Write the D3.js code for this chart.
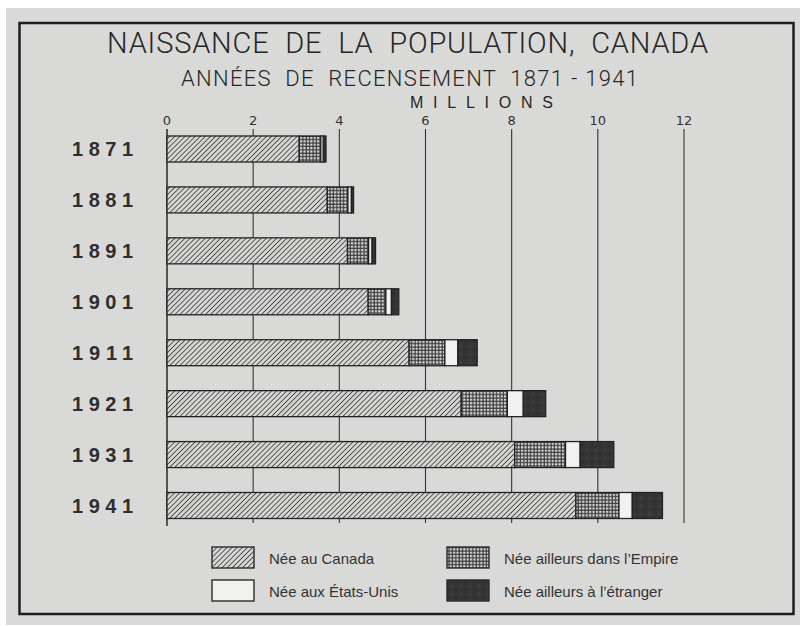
<!DOCTYPE html>
<html>
<head>
<meta charset="utf-8">
<script src="https://cdn.jsdelivr.net/npm/d3@7"></script>
<style>
  body { margin: 0; background: #fff; }
  svg { display: block; }
  text { white-space: pre; }
</style>
</head>
<body>
<svg id="canvas"></svg>
<script>
const width = 800;
const height = 627;

// census years and population by birthplace, millions
const years = ["1871", "1881", "1891", "1901", "1911", "1921", "1931", "1941"];
const bornCanada = [3.07, 3.72, 4.19, 4.67, 5.62, 6.83, 8.07, 9.49];
const bornEmpire = [0.50, 0.48, 0.49, 0.41, 0.83, 1.07, 1.18, 1.00];
const bornUS = [0.06, 0.08, 0.08, 0.13, 0.30, 0.37, 0.34, 0.31];
const bornOther = [0.06, 0.05, 0.08, 0.17, 0.45, 0.52, 0.78, 0.70];
const ticks = [0, 2, 4, 6, 8, 10, 12];

const seriesKeys = ["canada", "empire", "us", "other"];
const seriesLabels = [
  "Née au Canada",
  "Née ailleurs dans l’Empire",
  "Née aux États-Unis",
  "Née ailleurs à l’étranger"
];
const fills = {
  canada: "url(#hatch)",
  empire: "url(#checks)",
  us: "#f1f1ef",
  other: "url(#dark)"
};

const rows = years.map((y, i) => ({
  year: y,
  canada: bornCanada[i],
  empire: bornEmpire[i],
  us: bornUS[i],
  other: bornOther[i]
}));

const stacked = d3.stack().keys(seriesKeys)(rows);

const svg = d3.select("#canvas").attr("width", width).attr("height", height);

// scanned page background
svg.append("rect")
  .attr("x", 6).attr("y", 8)
  .attr("width", width - 6).attr("height", 617)
  .attr("fill", "#d9d9d8");

const defs = svg.append("defs");

const hatch = defs.append("pattern")
  .attr("id", "hatch")
  .attr("patternUnits", "userSpaceOnUse")
  .attr("width", 3.6).attr("height", 3.6)
  .attr("patternTransform", "rotate(45)");
hatch.append("rect").attr("width", 3.6).attr("height", 3.6).attr("fill", "#d6d6d5");
hatch.append("line")
  .attr("x1", 0).attr("y1", 0).attr("x2", 0).attr("y2", 3.6)
  .attr("stroke", "#2e2e2e").attr("stroke-width", 1.5);

const checks = defs.append("pattern")
  .attr("id", "checks")
  .attr("patternUnits", "userSpaceOnUse")
  .attr("width", 3.4).attr("height", 3.4);
checks.append("rect").attr("width", 3.4).attr("height", 3.4).attr("fill", "#3e3e3e");
checks.append("rect")
  .attr("x", 0.9).attr("y", 0.9).attr("width", 2.1).attr("height", 2.1)
  .attr("fill", "#dededc");

const dark = defs.append("pattern")
  .attr("id", "dark")
  .attr("patternUnits", "userSpaceOnUse")
  .attr("width", 9).attr("height", 8);
dark.append("rect").attr("width", 9).attr("height", 8).attr("fill", "#353535");
dark.append("circle").attr("cx", 2).attr("cy", 2).attr("r", 1.6).attr("fill", "#3f3f3f");
dark.append("circle").attr("cx", 6.5).attr("cy", 5.5).attr("r", 1.4).attr("fill", "#2c2c2c");

// frame
svg.append("rect")
  .attr("x", 19.5).attr("y", 23)
  .attr("width", 774).attr("height", 591)
  .attr("fill", "none")
  .attr("stroke", "#1e1e1e")
  .attr("stroke-width", 2.5);

const ink = "#262626";
const narrow = "'Liberation Sans Narrow', 'Roboto', sans-serif";

svg.append("text")
  .attr("x", 107).attr("y", 53)
  .attr("textLength", 601)
  .attr("lengthAdjust", "spacing")
  .style("font-family", narrow)
  .style("font-weight", 300)
  .style("font-size", "29px")
  .attr("fill", ink)
  .text("NAISSANCE  DE  LA  POPULATION,  CANADA");

svg.append("text")
  .attr("x", 181).attr("y", 86)
  .attr("textLength", 457)
  .attr("lengthAdjust", "spacing")
  .style("font-family", narrow)
  .style("font-weight", 300)
  .style("font-size", "22px")
  .attr("fill", ink)
  .text("ANNÉES  DE  RECENSEMENT  1871 - 1941");

svg.append("text")
  .attr("x", 410).attr("y", 108)
  .attr("textLength", 143)
  .attr("lengthAdjust", "spacing")
  .style("font-family", "'Liberation Sans', sans-serif")
  .style("font-size", "16px")
  .attr("fill", ink)
  .text("MILLIONS");

const xScale = d3.scaleLinear().domain([0, 12]).range([167, 684]);

const yScale = d3.scalePoint().domain(years).range([149, 505.5]);
const barHeight = 26;

// grid lines and tick labels
svg.append("g")
  .selectAll("line")
  .data(ticks)
  .enter()
  .append("line")
  .attr("x1", (d) => xScale(d))
  .attr("x2", (d) => xScale(d))
  .attr("y1", 129)
  .attr("y2", (d) => (d === 0 ? 526 : 523))
  .attr("stroke", "#333")
  .attr("stroke-width", (d) => (d === 0 ? 1.6 : 1.1));

svg.append("g")
  .selectAll("text")
  .data(ticks)
  .enter()
  .append("text")
  .attr("x", (d) => xScale(d))
  .attr("y", 125)
  .attr("text-anchor", "middle")
  .style("font-family", "'DejaVu Sans', sans-serif")
  .style("font-size", "13px")
  .attr("fill", "#333")
  .text((d) => d);

// year labels
svg.append("g")
  .selectAll("text")
  .data(years)
  .enter()
  .append("text")
  .attr("x", 72)
  .attr("y", (d) => yScale(d) + 7)
  .attr("textLength", 61)
  .attr("lengthAdjust", "spacing")
  .style("font-family", "'Liberation Sans', sans-serif")
  .style("font-weight", "bold")
  .style("font-size", "20px")
  .attr("fill", "#2e2e2e")
  .text((d) => d);

// stacked bars
svg.append("g")
  .selectAll("g")
  .data(stacked)
  .enter()
  .append("g")
  .attr("fill", (s) => fills[s.key])
  .selectAll("rect")
  .data((s) => s)
  .enter()
  .append("rect")
  .attr("x", (d) => xScale(d[0]))
  .attr("y", (d) => yScale(d.data.year) - barHeight / 2)
  .attr("width", (d) => xScale(d[1]) - xScale(d[0]))
  .attr("height", barHeight)
  .attr("stroke", "#222")
  .attr("stroke-width", 1.3);

// legend
const legendPos = [
  { key: "canada", x: 212, y: 547 },
  { key: "empire", x: 447, y: 547 },
  { key: "us", x: 212, y: 580 },
  { key: "other", x: 447, y: 580 }
];

const legend = svg.append("g").attr("id", "legend");

legend
  .selectAll("rect")
  .data(legendPos)
  .enter()
  .append("rect")
  .attr("x", (d) => d.x)
  .attr("y", (d) => d.y)
  .attr("width", 42)
  .attr("height", 21)
  .attr("fill", (d) => fills[d.key])
  .attr("stroke", "#2a2a2a")
  .attr("stroke-width", 1.4);

legend
  .selectAll("text")
  .data(legendPos)
  .enter()
  .append("text")
  .attr("x", (d) => d.x + 57)
  .attr("y", (d) => d.y + 17)
  .style("font-family", "'Liberation Sans', sans-serif")
  .style("font-size", "15px")
  .attr("fill", "#333")
  .text((d) => seriesLabels[seriesKeys.indexOf(d.key)]);
</script>
</body>
</html>
